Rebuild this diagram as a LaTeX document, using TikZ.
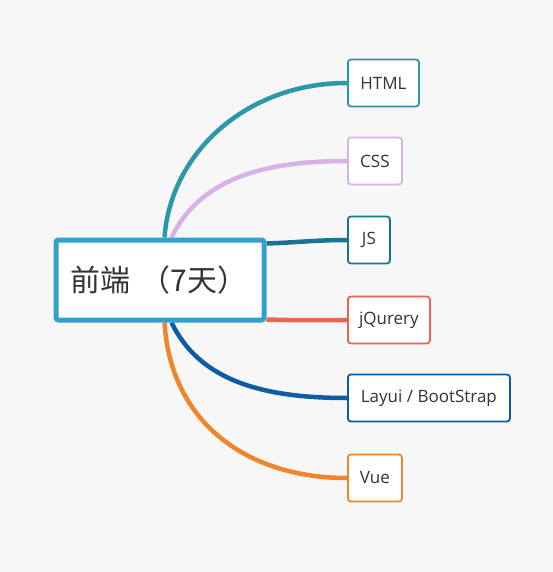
\documentclass[tikz,border=0pt]{standalone}
\usepackage{fontspec}
\setmainfont{Open Sans}
\newfontfamily\cjk{Noto Sans CJK SC}
\definecolor{bgc}{HTML}{F7F7F7}
\definecolor{mainc}{HTML}{339FCC}
\definecolor{htmlc}{HTML}{2B98A8}
\definecolor{cssc}{HTML}{D6B2E8}
\definecolor{jsc}{HTML}{177593}
\definecolor{jqc}{HTML}{E8664C}
\definecolor{layc}{HTML}{0A5DA6}
\definecolor{vuec}{HTML}{F0862B}
\definecolor{txt}{HTML}{333333}
\pgfdeclarelayer{bg}
\pgfsetlayers{bg,main}
\tikzset{
  leaf/.style={draw=#1, line width=1.8pt, rounded corners=3pt, fill=white,
    minimum height=47pt, inner xsep=0pt, anchor=west, text=txt,
    font=\fontsize{17}{19}\selectfont},
  link/.style={draw=#1, line width=4.5pt}
}
\begin{document}
\begin{tikzpicture}[x=1pt,y=-1pt]
\useasboundingbox (0,0) rectangle (553,572);
\node[draw=mainc, line width=5pt, rounded corners=2.5pt, fill=white,
  minimum width=208pt, minimum height=80pt, text width=179pt, align=left,
  inner xsep=12.5pt, text=txt, font=\cjk\fontsize{30}{32}\selectfont]
  (c) at (160,280) {\raisebox{-2pt}{前端 （7天）}};
\node[leaf=htmlc, minimum width=71pt] (html) at (347,83) {HTML};
\node[leaf=cssc, minimum width=54pt] (css) at (347,161) {CSS};
\node[leaf=jsc, minimum width=42pt] (js) at (347,240) {JS};
\node[leaf=jqc, minimum width=82pt] (jq) at (347,320) {jQurery};
\node[leaf=layc, minimum width=162pt] (lay) at (347,398) {Layui / BootStrap};
\node[leaf=vuec, minimum width=54pt] (vue) at (347,478) {Vue};
\begin{pgfonlayer}{bg}
\fill[bgc] (0,0) rectangle (553,572);
\draw[link=htmlc] ([xshift=111pt]c.north west) .. controls +(6,-85) and +(-100,0) .. (html.west);
\draw[link=cssc] ([xshift=118pt]c.north west) .. controls +(28,-58) and +(-85,0) .. (css.west);
\draw[link=jsc] ([yshift=-6pt]c.north east) .. controls +(30,-1) and +(-30,0) .. (js.west);
\draw[link=jqc] ([yshift=3pt]c.south east) .. controls +(30,1) and +(-30,0) .. (jq.west);
\draw[link=layc] ([xshift=118pt]c.south west) .. controls +(28,58) and +(-85,0) .. (lay.west);
\draw[link=vuec] ([xshift=111pt]c.south west) .. controls +(6,100) and +(-100,0) .. (vue.west);
\end{pgfonlayer}
\end{tikzpicture}
\end{document}
